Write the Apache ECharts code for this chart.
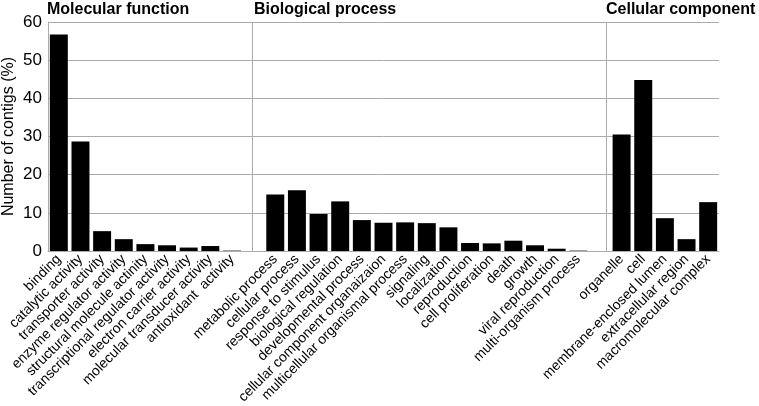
<!DOCTYPE html>
<html><head><meta charset="utf-8">
<script src="https://cdn.jsdelivr.net/npm/echarts@6/dist/echarts.min.js"></script>
<style>html,body{margin:0;padding:0;background:#fff}#c{width:759px;height:406px}</style>
</head><body><div id="c"></div>
<script>
var groupTitles = ['Molecular function', 'Biological process', 'Cellular component'];
var mfCategories = ['binding','catalytic activity','transporter activity','enzyme regulator activity','structural molecule actinity','transcriptional regulator activity','electron carrier activity','molecular transducer activity','antioxidant  activity'];
var mfValues = [56.7, 28.7, 5.2, 3.1, 1.8, 1.5, 0.9, 1.3, 0.1];
var bpCategories = ['metabolic process','cellular process','response to stimulus','biological regulation','developmental process','cellular component organaizaion','multicellular organismal process','signaling','localization','reproduction','cell proliferation','death','growth','viral reproduction','multi-organism process'];
var bpValues = [14.8, 15.9, 9.7, 13.0, 8.1, 7.4, 7.5, 7.3, 6.2, 2.1, 2.0, 2.7, 1.5, 0.6, 0.1];
var ccCategories = ['organelle','cell','membrane-enclosed lumen','extracellular region','macromolecular complex'];
var ccValues = [30.5, 44.8, 8.6, 3.1, 12.8];
var yTicks = [0, 10, 20, 30, 40, 50, 60];
var separatorPositions = [9.42, 25.77];

var cats = [].concat(mfCategories, [''], bpCategories, ['  '], ccCategories);
var vals = [].concat(mfValues, [null], bpValues, [null], ccValues);
var font = 'Liberation Sans, Arial, sans-serif';
var gridColor = '#ababab';
var titleStyle = {fontFamily: font, fontSize: 16, fontWeight: 'bold', color: '#000'};

var chart = echarts.init(document.getElementById('c'), null, {renderer: 'canvas'});
chart.setOption({
  animation: false,
  title: [
    {text: groupTitles[0], left: 47, top: 2, padding: 0, textStyle: titleStyle},
    {text: groupTitles[1], left: 254, top: 2, padding: 0, textStyle: titleStyle},
    {text: groupTitles[2], left: 606, top: 2, padding: 0, textStyle: titleStyle}
  ],
  grid: {left: 48, right: 40, top: 22, bottom: 155, containLabel: false, outerBoundsMode: 'none'},
  xAxis: [{
    type: 'category',
    data: cats,
    axisLine: {show: true, lineStyle: {color: gridColor, width: 1}},
    axisTick: {show: false},
    axisLabel: {interval: 0, rotate: 45, fontFamily: font, fontSize: 14, color: '#000', margin: 6},
    splitLine: {show: false}
  }, {
    type: 'value', min: 0, max: 31, show: false
  }],
  yAxis: {
    type: 'value', min: 0, max: 60, interval: 10,
    name: 'Number of contigs (%)', nameLocation: 'middle', nameGap: 31, nameMoveOverlap: false,
    nameTextStyle: {fontFamily: font, fontSize: 16, color: '#000'},
    axisLine: {show: true, lineStyle: {color: gridColor, width: 1}},
    axisTick: {show: false},
    axisLabel: {fontFamily: font, fontSize: 17, color: '#000', margin: 6,
      formatter: function (v) { return yTicks.indexOf(v) >= 0 ? String(v) : ''; }},
    splitLine: {show: true, lineStyle: {color: gridColor, width: 1}}
  },
  series: [{
    type: 'bar',
    data: vals,
    barWidth: '83%',
    itemStyle: {color: '#000'}
  }, {
    type: 'line',
    xAxisIndex: 1,
    data: [],
    silent: true,
    markLine: {
      silent: true,
      symbol: ['none', 'none'],
      label: {show: false},
      lineStyle: {color: gridColor, width: 1, type: 'solid'},
      data: separatorPositions.map(function (p) { return {xAxis: p}; })
    }
  }]
});
</script></body></html>
